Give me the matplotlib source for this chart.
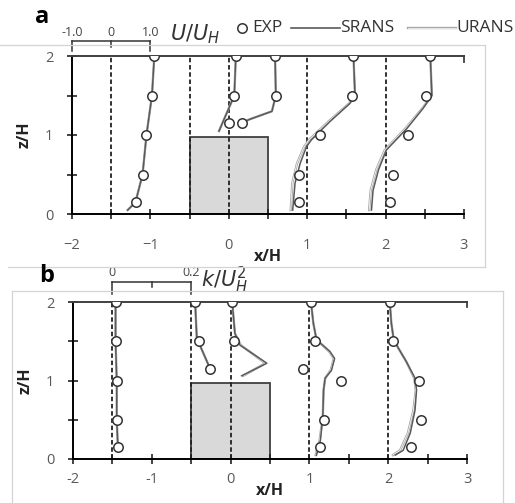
import numpy as np
import matplotlib
matplotlib.use("Agg")
import matplotlib.pyplot as plt
from matplotlib.patches import Rectangle
from matplotlib.lines import Line2D

plt.rcParams['font.family'] = ['Open Sans', 'DejaVu Sans']

# ---- data: panel a, U/U_H profiles ----
stations = [-1.5, -0.5, 0.0, 1.0, 2.0]
u_scale = 0.5   # x/H per unit U/U_H
k_scale = 5.0   # x/H per unit k/U_H^2

exp_u_z = [[2, 1.5, 1.0, 0.5, 0.15],
           [2, 1.5, 1.15],
           [2, 1.5, 1.15],
           [2, 1.5, 1.0, 0.5, 0.15],
           [2, 1.5, 1.0, 0.5, 0.15]]
exp_u = [[1.10, 1.04, 0.90, 0.80, 0.62],
         [1.18, 1.14, 1.00],
         [1.18, 1.20, 0.34],
         [1.18, 1.14, 0.32, -0.20, -0.20],
         [1.14, 1.04, 0.58, 0.20, 0.10]]

srans_u_z = [[2, 1.5, 1.0, 0.5, 0.15, 0.05],
             [2, 1.5, 1.05],
             [2, 1.5, 1.3, 1.2, 1.16],
             [2, 1.5, 1.4, 1.17, 0.94, 0.85, 0.64, 0.39, 0.05],
             [2, 1.5, 1.34, 1.08, 0.81, 0.56, 0.30, 0.05]]
srans_u = [[1.10, 1.04, 0.90, 0.80, 0.62, 0.42],
           [1.18, 1.14, 0.75],
           [1.18, 1.20, 1.10, 0.54, 0.36],
           [1.18, 1.22, 1.09, 0.58, 0.11, -0.02, -0.18, -0.31, -0.37],
           [1.14, 1.18, 0.96, 0.54, 0.02, -0.18, -0.32, -0.36]]
urans_u = [[1.10, 1.04, 0.90, 0.80, 0.62, 0.42],
           [1.18, 1.14, 0.75],
           [1.18, 1.20, 1.10, 0.54, 0.36],
           [1.18, 1.22, 1.07, 0.54, 0.05, -0.08, -0.26, -0.38, -0.42],
           [1.14, 1.18, 0.94, 0.50, -0.02, -0.24, -0.38, -0.42]]

# ---- data: panel b, k/U_H^2 profiles ----
exp_k_z = [[2, 1.5, 1.0, 0.5, 0.15],
           [2, 1.5, 1.15],
           [2, 1.5],
           [2, 1.5, 1.15, 1.0, 0.5, 0.15],
           [2, 1.5, 1.0, 0.5, 0.15]]
exp_k = [[0.008, 0.008, 0.011, 0.011, 0.014],
         [0.010, 0.020, 0.048],
         [0.004, 0.009],
         [0.004, 0.014, -0.016, 0.080, 0.036, 0.026],
         [0.004, 0.013, 0.078, 0.084, 0.057]]

srans_k_z = [[2, 1.5, 1.0, 0.5, 0.15],
             [2, 1.56, 1.45, 1.15],
             [2, 1.6, 1.45, 1.22, 1.06],
             [2, 1.73, 1.52, 1.37, 1.28, 1.13, 1.03, 0.88, 0.54, 0.24, 0.05],
             [2, 1.73, 1.52, 1.41, 1.24, 1.03, 0.88, 0.62, 0.33, 0.11, 0.05]]
srans_k = [[0.008, 0.008, 0.011, 0.011, 0.014],
           [0.010, 0.014, 0.022, 0.048],
           [0.004, 0.011, 0.024, 0.092, 0.028],
           [0.004, 0.010, 0.018, 0.052, 0.064, 0.056, 0.040, 0.036, 0.034, 0.028, 0.018],
           [0.004, 0.008, 0.014, 0.026, 0.046, 0.068, 0.072, 0.068, 0.056, 0.038, 0.018]]
urans_k = [[0.008, 0.008, 0.011, 0.011, 0.014],
           [0.010, 0.014, 0.022, 0.048],
           [0.004, 0.011, 0.026, 0.088, 0.032],
           [0.004, 0.010, 0.018, 0.050, 0.062, 0.054, 0.040, 0.036, 0.034, 0.026, 0.016],
           [0.004, 0.008, 0.014, 0.026, 0.046, 0.066, 0.070, 0.064, 0.050, 0.030, 0.012]]

building_x = (-0.5, 0.5)
building_h = 0.97

SRANS_C = '#5a5a5a'
URANS_C = '#a8a8a8'


def setup(ax, minus, xpad):
    ax.set_xlim(-2, 3)
    ax.set_ylim(0, 2)
    ax.add_patch(Rectangle((building_x[0], 0), building_x[1] - building_x[0], building_h,
                           fc='#d9d9d9', ec='#404040', lw=1.3, zorder=1))
    for s in stations:
        ax.axvline(s, color='#222222', ls=(0, (2.5, 1.5)), lw=1.3, zorder=1)
    for sp in ['left', 'bottom']:
        ax.spines[sp].set_color('black')
        ax.spines[sp].set_linewidth(1.4)
    ax.spines['top'].set_color('#404040')
    ax.spines['top'].set_linewidth(1.4)
    ax.spines['right'].set_visible(False)
    ax.plot([3, 3], [2, 1.93], color='#404040', lw=1.3, clip_on=False)
    ticks = np.arange(-2, 3.01, 0.5)
    ax.set_xticks(ticks)
    ax.set_xticklabels([(minus + str(abs(int(v))) if v < 0 else str(int(v))) if v == int(v) else ''
                        for v in ticks])
    ax.set_yticks([0, 0.5, 1, 1.5, 2])
    ax.set_yticklabels(['0', '', '1', '', '2'])
    ax.tick_params(direction='inout', length=7, width=1.2, colors='#222222',
                   labelcolor='#595959', labelsize=10.5)
    ax.tick_params(axis='x', pad=xpad)
    ax.tick_params(axis='y', pad=10)
    ax.set_xlabel('x/H', fontweight='bold', fontsize=11.5, labelpad=-3, color='#222222')
    ax.set_ylabel('z/H', fontweight='bold', fontsize=11.5, labelpad=9, color='#222222')


fig = plt.figure(figsize=(5.15, 5.03), dpi=100)

# outer chart frames
fc = '#d4d4d4'
fig.add_artist(Line2D([0, 485 / 515], [1 - 45 / 503] * 2, color=fc, lw=0.9))
fig.add_artist(Line2D([485 / 515] * 2, [1 - 45 / 503, 1 - 267 / 503], color=fc, lw=0.9))
fig.add_artist(Line2D([8 / 515, 485 / 515], [1 - 267 / 503] * 2, color=fc, lw=0.9))
fig.add_artist(Line2D([12 / 515, 503 / 515], [1 - 291 / 503] * 2, color=fc, lw=0.9))
fig.add_artist(Line2D([12 / 515] * 2, [1 - 291 / 503, 0], color=fc, lw=0.9))
fig.add_artist(Line2D([503 / 515] * 2, [1 - 291 / 503, 0], color=fc, lw=0.9))

axa = fig.add_axes([72 / 515, 1 - 214 / 503, 392 / 515, 158 / 503])
axb = fig.add_axes([73 / 515, 1 - 459 / 503, 394 / 515, 157 / 503])

setup(axa, '\u2212', 14)
setup(axb, '-', 6)

mk = dict(marker='o', ms=6.8, mfc='white', mec='#333333', mew=1.1, ls='none', zorder=5)

for i, s in enumerate(stations):
    axa.plot(s + u_scale * np.array(urans_u[i]), srans_u_z[i], color=URANS_C, lw=1.7, zorder=3)
    axa.plot(s + u_scale * np.array(urans_u[i]), srans_u_z[i], color='white', lw=0.5, zorder=3)
    axa.plot(s + u_scale * np.array(srans_u[i]), srans_u_z[i], color=SRANS_C, lw=1.1, zorder=4)
    axa.plot(s + u_scale * np.array(exp_u[i]), exp_u_z[i], **mk)

    axb.plot(s + k_scale * np.array(urans_k[i]), srans_k_z[i], color=URANS_C, lw=1.7, zorder=3)
    axb.plot(s + k_scale * np.array(urans_k[i]), srans_k_z[i], color='white', lw=0.5, zorder=3)
    axb.plot(s + k_scale * np.array(srans_k[i]), srans_k_z[i], color=SRANS_C, lw=1.1, zorder=4)
    axb.plot(s + k_scale * np.array(exp_k[i]), exp_k_z[i], **mk)


# scale brackets
def bracket(ax, vals, scale, z0, z1, labels):
    xs = [stations[0] + scale * v for v in vals]
    ax.plot([xs[0], xs[-1]], [z1, z1], color='#333333', lw=1.1, clip_on=False)
    ax.plot([xs[0], xs[0]], [z0, z1], color='#333333', lw=1.1, clip_on=False)
    ax.plot([xs[-1], xs[-1]], [z0, z1], color='#333333', lw=1.1, clip_on=False)
    ax.plot([xs[1], xs[1]], [z1 - 0.07, z1], color='#333333', lw=1.1, clip_on=False)
    for x, lab in zip(xs, labels):
        if lab:
            ax.text(x, z1 + 0.03, lab, ha='center', va='bottom', fontsize=9, color='#444444')


bracket(axa, [-1.0, 0.0, 1.0], u_scale, 2.06, 2.19, ['-1.0', '0', '1.0'])
bracket(axb, [0.0, 0.1, 0.2], k_scale, 2.1, 2.26, ['0', '', '0.2'])

axa.text(-0.75, 2.13, '$U/U_H$', fontsize=15, color='#333333', ha='left', va='bottom')
axb.text(-0.38, 2.08, '$k/U_H^2$', fontsize=15, color='#333333', ha='left', va='bottom')

# legend, drawn in figure pixels
W, Hh = 515.0, 503.0
ly = 1 - 28 / Hh
fig.add_artist(Line2D([242 / W], [ly], marker='o', ms=6.8, mfc='white', mec='#333333', mew=1.1))
fig.text(252 / W, ly, 'EXP', fontsize=12.5, color='#333333', va='center', ha='left')
fig.add_artist(Line2D([291 / W, 340 / W], [ly, ly], color=SRANS_C, lw=1.2))
fig.text(340 / W, ly, 'SRANS', fontsize=12.5, color='#333333', va='center', ha='left')
fig.add_artist(Line2D([408 / W, 456 / W], [ly, ly], color=URANS_C, lw=1.7))
fig.add_artist(Line2D([408 / W, 456 / W], [ly, ly], color='white', lw=0.5))
fig.text(456 / W, ly, 'URANS', fontsize=12.5, color='#333333', va='center', ha='left')

fig.text(42 / W, 1 - 17 / Hh, 'a', fontsize=17, fontweight='bold', ha='center', va='center')
fig.text(47 / W, 1 - 276 / Hh, 'b', fontsize=17, fontweight='bold', ha='center', va='center')

fig.savefig('out.png', dpi=100)
